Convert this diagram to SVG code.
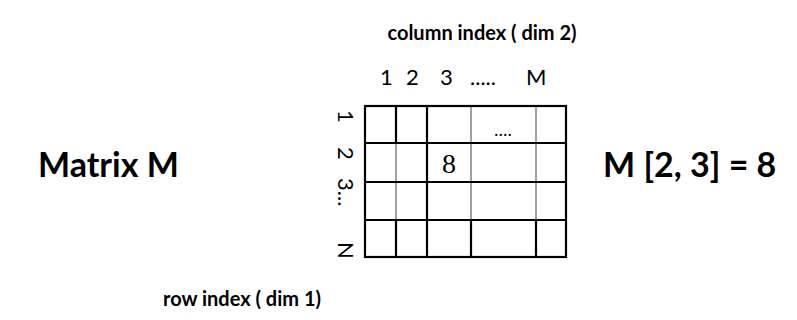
<svg xmlns="http://www.w3.org/2000/svg" width="797" height="320" viewBox="0 0 797 320">
<style>
.bold{font-family:Lato,"Liberation Sans",sans-serif;font-weight:bold;fill:#000}
.reg{font-family:Lato,"Liberation Sans",sans-serif;fill:#000}
.serif{font-family:"Liberation Serif",serif;fill:#000}
.bk{stroke:#000;stroke-width:2.2;fill:none}
.gy{stroke:#8a8a8a;stroke-width:1.6;fill:none}
</style>
<rect width="797" height="320" fill="#fff"/>
<g id="title-col"><text class="bold" x="482" y="40" font-size="20" text-anchor="middle">column index ( dim 2)</text></g>
<g id="col-labels"><text class="reg" font-size="22" y="85"><tspan x="380">1</tspan><tspan x="406">2</tspan><tspan x="440">3</tspan><tspan x="470">.....</tspan><tspan x="526">M</tspan></text></g>
<g id="row-labels"><text class="reg" font-size="22" transform="translate(338,110) rotate(90)"><tspan x="0">1</tspan><tspan x="37">2</tspan><tspan x="68">3...</tspan><tspan x="132">N</tspan></text></g>
<g id="matrix-label"><text class="bold" x="38" y="177" font-size="34">Matrix M</text></g>
<g id="result-label"><text class="bold" x="603" y="177" font-size="34">M [2, 3] = 8</text></g>
<g id="title-row"><text class="bold" x="242" y="306" font-size="20" text-anchor="middle">row index ( dim 1)</text></g>
<g id="grid">
<line class="gy" x1="396" y1="143" x2="396" y2="220"/>
<line class="gy" x1="471" y1="106" x2="471" y2="220"/>
<line class="gy" x1="536" y1="106" x2="536" y2="220"/>
<line class="bk" x1="396" y1="106" x2="396" y2="143"/>
<line class="bk" x1="396" y1="220" x2="396" y2="257"/>
<line class="bk" x1="471" y1="220" x2="471" y2="257"/>
<line class="bk" x1="536" y1="220" x2="536" y2="257"/>
<line class="bk" x1="427" y1="106" x2="427" y2="257"/>
<line class="bk" x1="365" y1="143" x2="566" y2="143"/>
<line class="bk" x1="365" y1="182" x2="566" y2="182"/>
<line class="bk" x1="365" y1="220" x2="566" y2="220"/>
<rect class="bk" x="365" y="106" width="201" height="151"/>
<text class="serif" x="449" y="173" font-size="28" text-anchor="middle">8</text>
<text class="serif" x="503" y="136" font-size="18" text-anchor="middle">....</text>
</g>
</svg>
